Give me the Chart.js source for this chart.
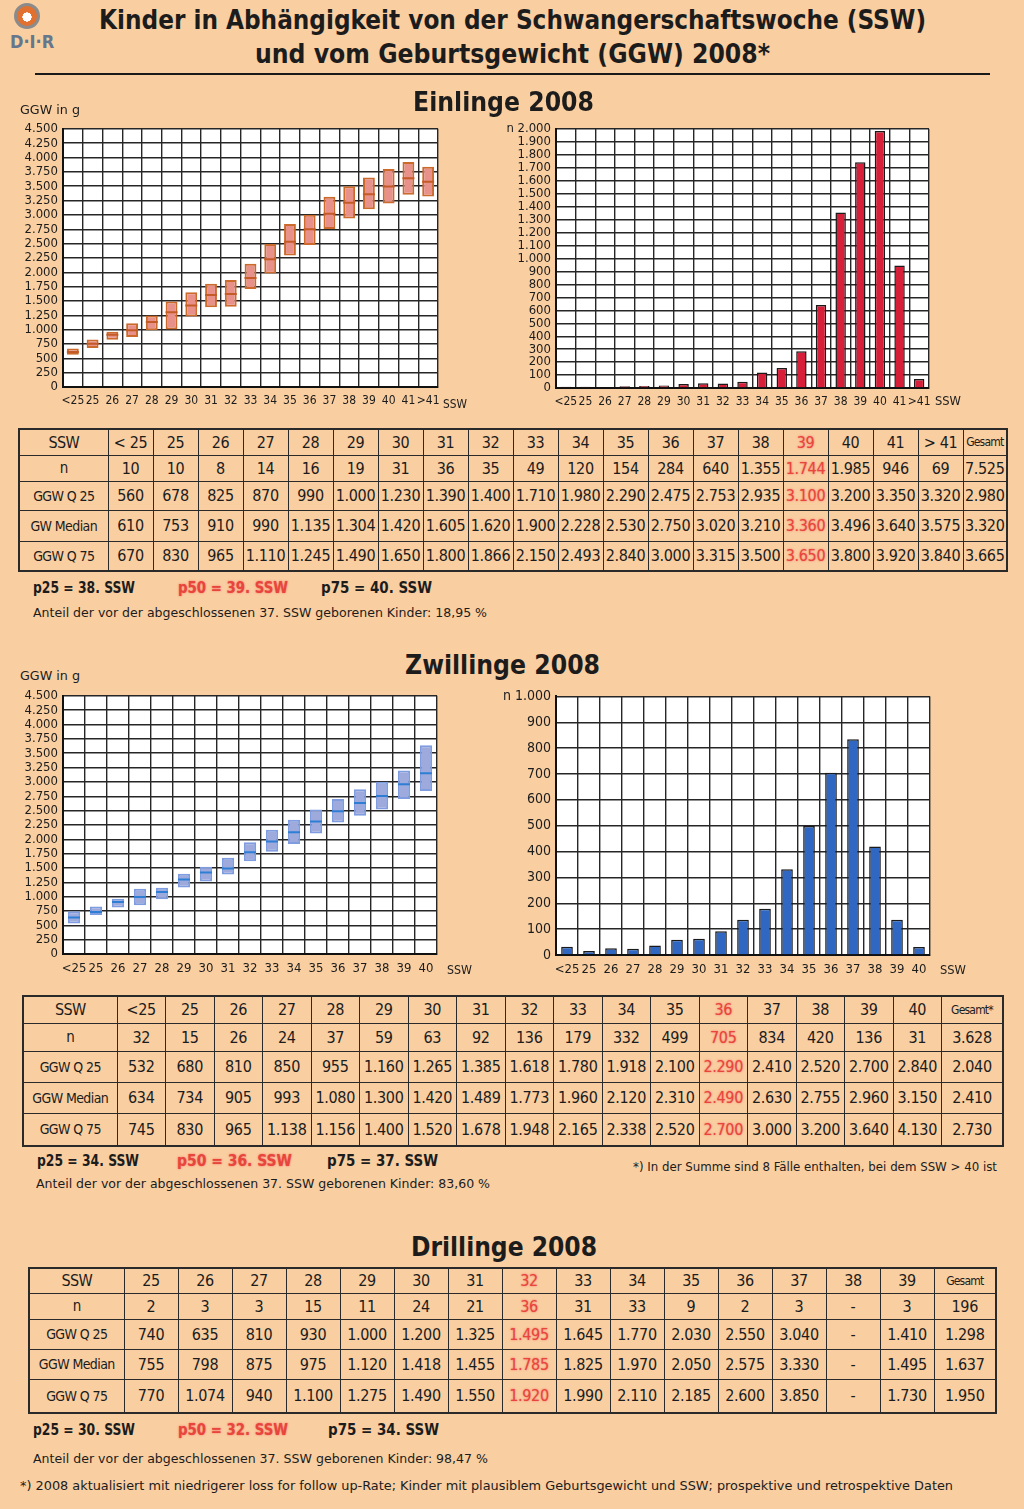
<!DOCTYPE html>
<html><head><meta charset="utf-8">
<script src="https://cdn.jsdelivr.net/npm/chart.js@4.4.1/dist/chart.umd.min.js"></script>
<style>
html,body{margin:0;padding:0;}
body{width:1024px;height:1509px;background:#f9cea1;position:relative;overflow:hidden;
 font-family:'DejaVu Sans Condensed','Liberation Sans Narrow','Roboto Condensed',sans-serif;font-stretch:condensed;color:#1c1c1c;}
.t{position:absolute;white-space:nowrap;line-height:1;transform-origin:0 50%;}
.b{font-weight:bold;}
canvas{position:absolute;}
table{position:absolute;border-collapse:collapse;table-layout:fixed;border:2px solid #2a2a2a;}
td{border:1.5px solid #2a2a2a;text-align:center;padding:0;font-size:16px;white-space:nowrap;overflow:hidden;letter-spacing:-0.3px;}
td.lab{font-size:14px;letter-spacing:-0.6px;}
td.ges{font-size:12px;letter-spacing:-0.8px;}
.red{color:#e8453c;text-shadow:0 0 2px #f06a60;}
.rule{position:absolute;left:35px;top:73px;width:955px;height:2px;background:#1a1a1a;}
.logo{position:absolute;left:14px;top:3px;width:20px;height:20px;border-radius:50%;border:3px solid #8b8b8b;
 background:radial-gradient(circle at 50% 55%,#fff 0 30%,#e2702e 32% 100%);}
</style></head>
<body>
<div class="logo"></div>
<div class="t b" style="left:10px;top:33px;font-size:18px;color:#66768c;">D·I·R</div>

<div class="rule"></div>

<canvas id="c1" width="440" height="300" style="left:12px;top:116px"></canvas>
<canvas id="c2" width="480" height="300" style="left:480px;top:116px"></canvas>
<canvas id="c3" width="440" height="300" style="left:12px;top:683px"></canvas>
<canvas id="c4" width="480" height="300" style="left:480px;top:683px"></canvas>

<div id="tables"></div>
<div id="texts"></div>

<script>
// ---------- DATA ----------
// Einlinge 2008
const singleSSW    = ['<25','25','26','27','28','29','30','31','32','33','34','35','36','37','38','39','40','41','>41'];
const singleHead   = ['< 25','25','26','27','28','29','30','31','32','33','34','35','36','37','38','39','40','41','> 41'];
const singleN      = [10,10,8,14,16,19,31,36,35,49,120,154,284,640,1355,1744,1985,946,69];
const singleQ25    = [560,678,825,870,990,1000,1230,1390,1400,1710,1980,2290,2475,2753,2935,3100,3200,3350,3320];
const singleMedian = [610,753,910,990,1135,1304,1420,1605,1620,1900,2228,2530,2750,3020,3210,3360,3496,3640,3575];
const singleQ75    = [670,830,965,1110,1245,1490,1650,1800,1866,2150,2493,2840,3000,3315,3500,3650,3800,3920,3840];
const singleTotal  = [7525,2980,3320,3665];

// Zwillinge 2008
const twinSSW      = ['<25','25','26','27','28','29','30','31','32','33','34','35','36','37','38','39','40'];
const twinN        = [32,15,26,24,37,59,63,92,136,179,332,499,705,834,420,136,31];
const twinQ25      = [532,680,810,850,955,1160,1265,1385,1618,1780,1918,2100,2290,2410,2520,2700,2840];
const twinMedian   = [634,734,905,993,1080,1300,1420,1489,1773,1960,2120,2310,2490,2630,2755,2960,3150];
const twinQ75      = [745,830,965,1138,1156,1400,1520,1678,1948,2165,2338,2520,2700,3000,3200,3640,4130];
const twinQ75Plot  = [745,830,965,1138,1156,1400,1520,1678,1948,2165,2338,2520,2700,2870,3000,3200,3640]; // as drawn in the chart
const twinTotal    = [3628,2040,2410,2730];

// Drillinge 2008
const tripSSW      = ['25','26','27','28','29','30','31','32','33','34','35','36','37','38','39'];
const tripN        = [2,3,3,15,11,24,21,36,31,33,9,2,3,null,3];
const tripQ25      = [740,635,810,930,1000,1200,1325,1495,1645,1770,2030,2550,3040,null,1410];
const tripMedian   = [755,798,875,975,1120,1418,1455,1785,1825,1970,2050,2575,3330,null,1495];
const tripQ75      = [770,1074,940,1100,1275,1490,1550,1920,1990,2110,2185,2600,3850,null,1730];
const tripTotal    = [196,1298,1637,1950];

const ggwTicks = {min:0, max:4500, step:250};
const nTicksSingle = {min:0, max:2000, step:100};
const nTicksTwin = {min:0, max:1000, step:100};

// ---------- HELPERS ----------
const fmt = v => v==null ? '-' : String(v).replace(/\B(?=(\d{3})+(?!\d))/g,'.');
const FONT = "'DejaVu Sans Condensed','Liberation Sans Narrow','Roboto Condensed',sans-serif";
Chart.defaults.font.family = FONT;
Chart.defaults.color = '#1c1c1c';
Chart.defaults.animation = false;

const plotBg = {id:'plotBg', beforeDraw(c){const {ctx,chartArea:a}=c;ctx.save();ctx.fillStyle='#ffffff';ctx.fillRect(a.left,a.top,a.right-a.left,a.bottom-a.top);ctx.restore();}};

function scales(yT, yW, xH, yFont, xFont, topLabel){
  return {
    x:{offset:true,
       grid:{color:'#262626',lineWidth:1.4,drawTicks:false,offset:true},
       border:{color:'#111',width:2},
       ticks:{autoSkip:false,maxRotation:0,minRotation:0,padding:7,font:{size:xFont}},
       afterFit:s=>{s.height=xH;}},
    y:{min:yT.min,max:yT.max,
       grid:{color:'#262626',lineWidth:1.4,drawTicks:false},
       border:{color:'#111',width:2},
       ticks:{stepSize:yT.step,autoSkip:false,maxTicksLimit:200,padding:5,font:{size:yFont},
              callback:v=>(topLabel && v===yT.max) ? topLabel+fmt(v) : fmt(v)},
       afterFit:s=>{s.width=yW;}}
  };
}

function boxChart(id, labels, q25, med, q75, fill, border, medColor, pct, padRight, yW, xH, xFont){
  new Chart(document.getElementById(id),{
    type:'bar',
    data:{labels, datasets:[
      {type:'line',data:med,showLine:false,pointStyle:'line',pointRadius:6,pointBorderWidth:2,
       pointBorderColor:medColor,borderColor:medColor,order:0},
      {data:q25.map((v,i)=>[v,q75[i]]),backgroundColor:fill,borderColor:border,borderWidth:2,
       borderSkipped:false,barPercentage:pct,categoryPercentage:1,order:1}
    ]},
    options:{responsive:false,events:[],
      layout:{padding:{top:12,right:padRight,left:0,bottom:0}},
      plugins:{legend:{display:false},tooltip:{enabled:false}},
      scales:scales(ggwTicks,yW,xH,13,xFont,null)},
    plugins:[plotBg]
  });
}

function nChart(id, labels, n, yT, color, padRight, yW, xH, yFont, xFont, topPad){
  new Chart(document.getElementById(id),{
    type:'bar',
    data:{labels, datasets:[
      {data:n,backgroundColor:color,borderColor:'#1a1a1a',borderWidth:1.5,
       barPercentage:0.53,categoryPercentage:1}
    ]},
    options:{responsive:false,events:[],
      layout:{padding:{top:topPad,right:padRight,left:0,bottom:0}},
      plugins:{legend:{display:false},tooltip:{enabled:false}},
      scales:scales(yT,yW,xH,yFont,xFont,'n ')},
    plugins:[plotBg]
  });
}

boxChart('c1', singleSSW, singleQ25, singleMedian, singleQ75, '#e8918a', '#cc6a2c', '#c45a26', 0.6, 14, 51, 29, 12);
nChart('c2', singleSSW, singleN, nTicksSingle, '#d71f3a', 31, 76, 28, 13, 12, 13);
boxChart('c3', twinSSW, twinQ25, twinMedian, twinQ75Plot, '#9daadb', '#7f9ce0', '#2f7ed6', 0.56, 15, 51, 29, 13);
nChart('c4', twinSSW, twinN, nTicksTwin, '#2f67c2', 30, 76, 28, 14, 13, 12);

// ---------- TABLES ----------
function buildTable(left, top, labW, dataW, gesW, rowH, head, rows, labels, totals, gesHead, hi){
  const t=document.createElement('table');
  t.style.left=left+'px'; t.style.top=top+'px';
  const cg=document.createElement('colgroup');
  const widths=[labW, ...head.map(()=>dataW), gesW];
  widths.forEach(w=>{const c=document.createElement('col');c.style.width=w+'px';cg.appendChild(c);});
  t.appendChild(cg);
  t.style.width=widths.reduce((a,b)=>a+b,0)+'px';
  const all=[head, ...rows];
  all.forEach((r,ri)=>{
    const tr=document.createElement('tr'); tr.style.height=rowH[ri]+'px';
    const l=document.createElement('td'); l.className='lab'; l.textContent=labels[ri];
    if(ri===0) l.style.fontSize='16px';
    if(ri===1) l.style.fontSize='15px';
    tr.appendChild(l);
    r.forEach((v,ci)=>{
      const d=document.createElement('td');
      d.textContent = ri===0 ? v : fmt(v);
      if(ci===hi) d.className='red';
      tr.appendChild(d);
    });
    const g=document.createElement('td');
    if(ri===0){g.className='ges';g.textContent=gesHead;} else g.textContent=fmt(totals[ri-1]);
    tr.appendChild(g);
    t.appendChild(tr);
  });
  document.getElementById('tables').appendChild(t);
}
buildTable(18,428,89,45,44,[26,26,29,31,30],singleHead,[singleN,singleQ25,singleMedian,singleQ75],
  ['SSW','n','GGW Q 25','GW Median','GGW Q 75'],singleTotal,'Gesamt',15);
buildTable(22,995,94,48.5,61.5,[27,28,31,31,33],twinSSW,[twinN,twinQ25,twinMedian,twinQ75],
  ['SSW','n','GGW Q 25','GGW Median','GGW Q 75'],twinTotal,'Gesamt*',12);
buildTable(28,1267,95,54,62,[25,26,30,30,34],tripSSW,[tripN,tripQ25,tripMedian,tripQ75],
  ['SSW','n','GGW Q 25','GGW Median','GGW Q 75'],tripTotal,'Gesamt',7);

// ---------- TEXTS ----------
// [text, left or center, centerY, fontSize, bold, targetWidth, centered, cls]
const texts = [
  ['Kinder in Abhängigkeit von der Schwangerschaftswoche (SSW)',512,19,27,true,827,true],
  ['und vom Geburtsgewicht (GGW) 2008*',512,53,27,true,515,true],
  ['Einlinge 2008',503,101,27,true,181,true],
  ['Zwillinge 2008',502,664,27,true,195,true],
  ['Drillinge 2008',504,1246,27,true,186,true],
  ['GGW in g',20,110,12,false,60,false],
  ['GGW in g',20,676,12,false,60,false],
  ['SSW',443,403,13,false,24,false],
  ['SSW',935,400,13,false,26,false],
  ['SSW',447,969,13,false,25,false],
  ['SSW',940,969,13,false,26,false],
  ['p25 = 38. SSW',33,588,15,true,102,false],
  ['p50 = 39. SSW',178,588,15,true,110,false,'red'],
  ['p75 = 40. SSW',321,588,15,true,111,false],
  ['Anteil der vor der abgeschlossenen 37. SSW geborenen Kinder: 18,95 %',33,612,13,false,454,false],
  ['p25 = 34. SSW',37,1161,15,true,102,false],
  ['p50 = 36. SSW',177,1161,15,true,115,false,'red'],
  ['p75 = 37. SSW',327,1161,15,true,111,false],
  ['Anteil der vor der abgeschlossenen 37. SSW geborenen Kinder: 83,60 %',36,1183,13,false,454,false],
  ['*) In der Summe sind 8 Fälle enthalten, bei dem SSW > 40 ist',633,1166,13,false,364,false],
  ['p25 = 30. SSW',33,1430,15,true,102,false],
  ['p50 = 32. SSW',178,1430,15,true,110,false,'red'],
  ['p75 = 34. SSW',328,1430,15,true,111,false],
  ['Anteil der vor der abgeschlossenen 37. SSW geborenen Kinder: 98,47 %',33,1458,13,false,455,false],
  ['*) 2008 aktualisiert mit niedrigerer loss for follow up-Rate; Kinder mit plausiblem Geburtsgewicht und SSW; prospektive und retrospektive Daten',20,1485,13,false,933,false]
];
const box=document.getElementById('texts');
texts.forEach(([s,x,y,fs,b,w,c,cls])=>{
  const e=document.createElement('div');
  e.className='t'+(b?' b':'')+(cls?' '+cls:'');
  e.textContent=s; e.style.fontSize=fs+'px'; e.style.top=(y-fs/2)+'px';
  box.appendChild(e);
  const mw=e.getBoundingClientRect().width;
  const k=w/mw;
  e.style.left=(c? x-w/2 : x)+'px';
  e.style.transform='scaleX('+k.toFixed(4)+')';
});
</script>
</body></html>
